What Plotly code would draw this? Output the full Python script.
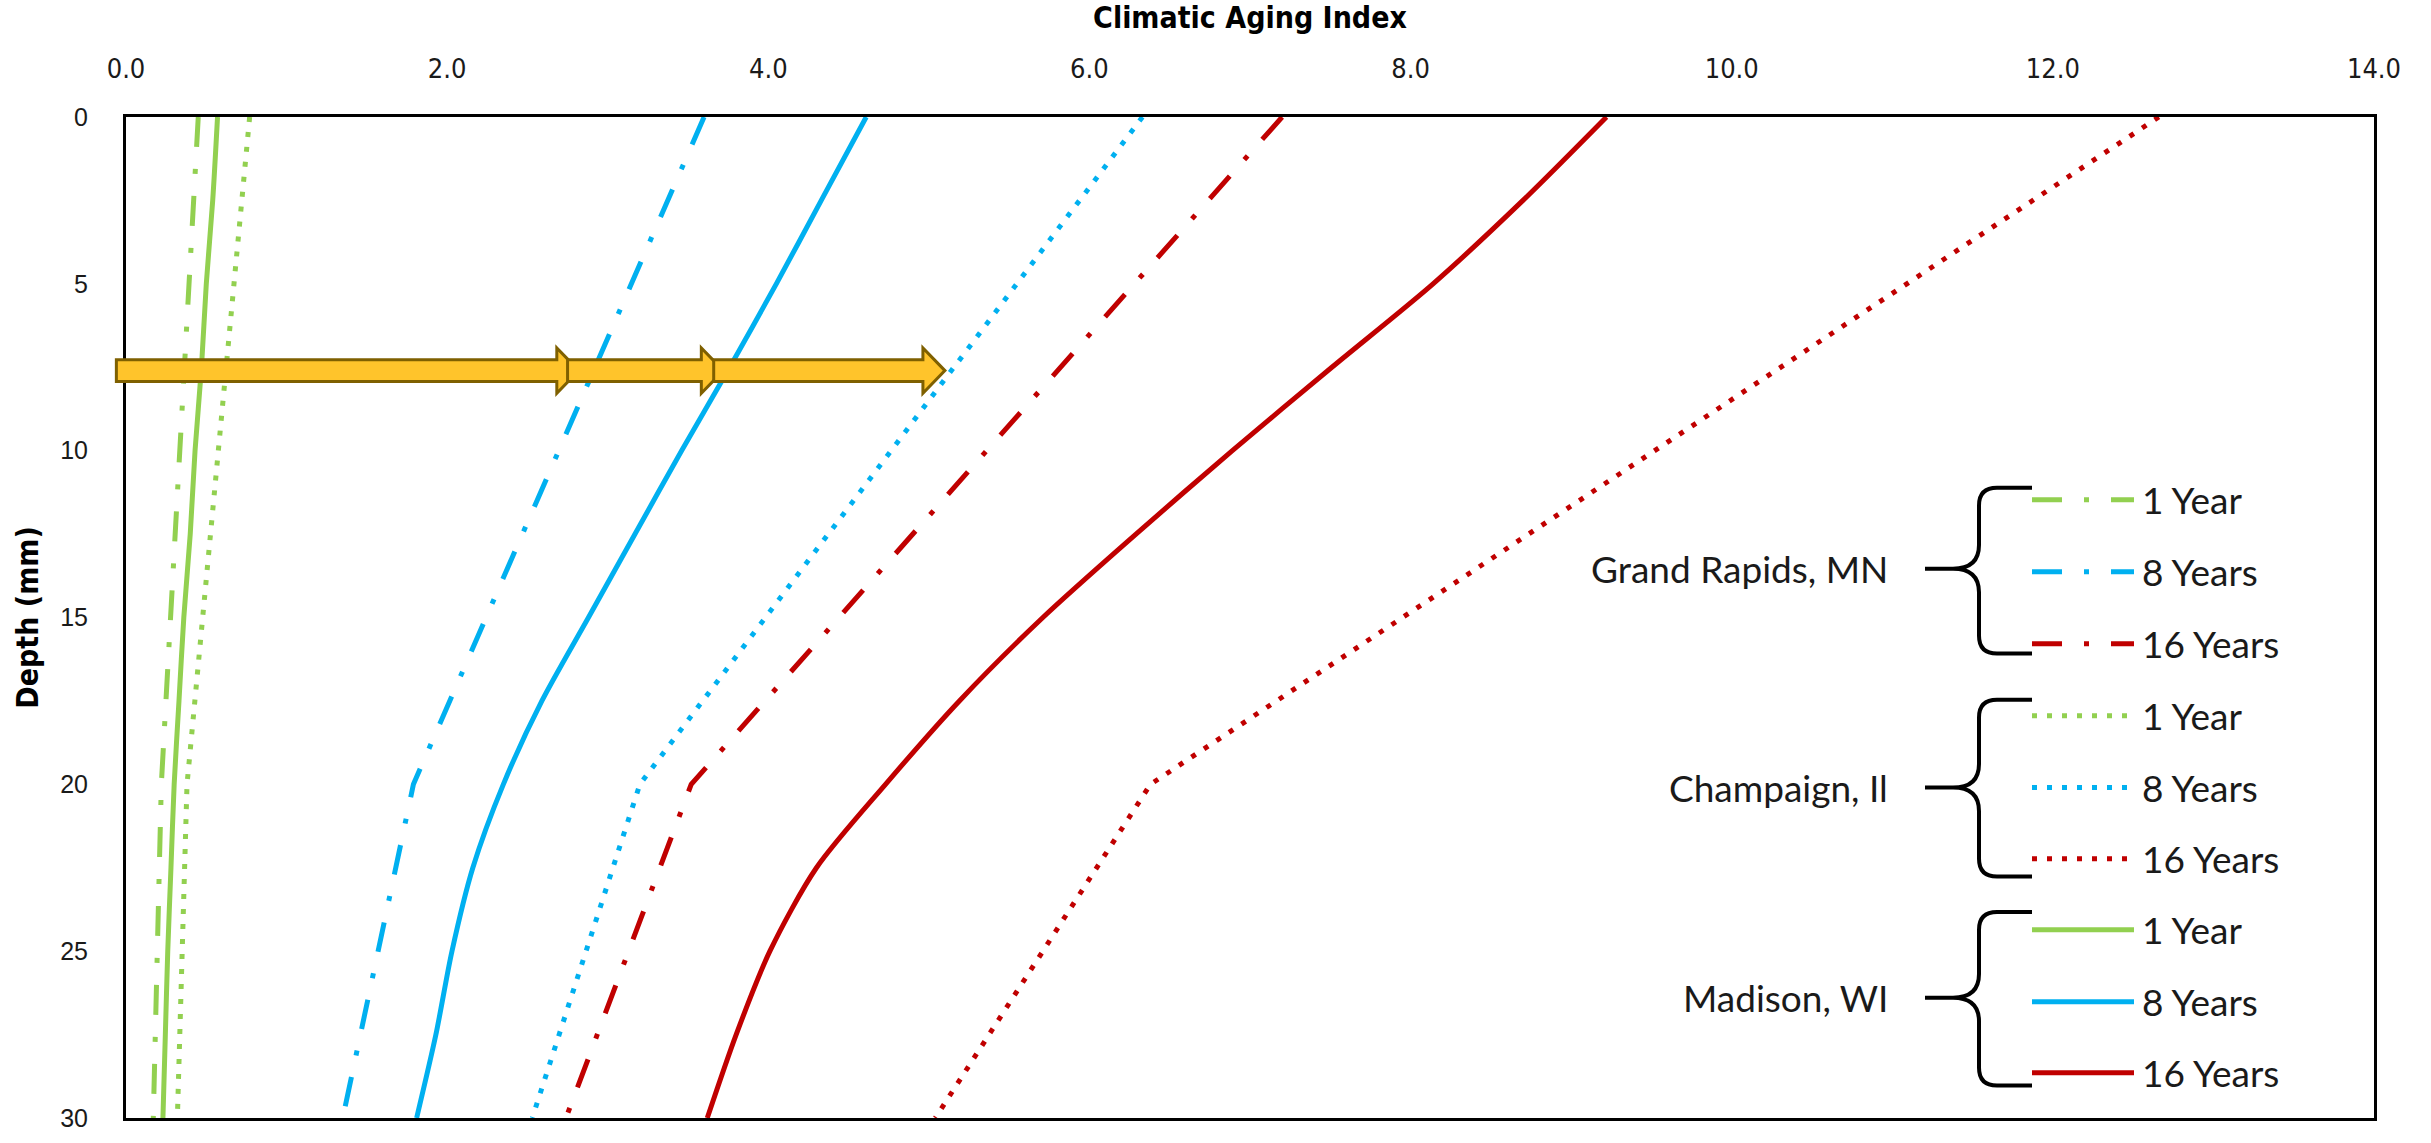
import plotly.graph_objects as go

# ---------------- data ----------------
# Madison, WI profiles (smooth curves)
madison_depth = [0, 2.5, 5, 7.5, 10, 12.5, 15, 17.5, 20, 22.5, 25, 27.5, 30]
madison_1yr = [0.57, 0.54, 0.50, 0.47, 0.43, 0.40, 0.36, 0.33, 0.30, 0.28, 0.26, 0.245, 0.23]
madison_8yr = [4.61, 4.33, 4.05, 3.76, 3.46, 3.17, 2.88, 2.59, 2.35, 2.16, 2.03, 1.93, 1.81]
madison_16yr = [9.22, 8.70, 8.14, 7.51, 6.89, 6.29, 5.71, 5.19, 4.73, 4.30, 4.01, 3.80, 3.62]

# Grand Rapids, MN profiles
grand_rapids_depth = [0, 20, 30]
grand_rapids_1yr = [0.45, 0.22, 0.17]
grand_rapids_8yr = [3.60, 1.79, 1.35]
grand_rapids_16yr = [7.20, 3.52, 2.74]

# Champaign, Il profiles
champaign_depth = [0, 20, 30]
champaign_1yr = [0.77, 0.38, 0.32]
champaign_8yr = [6.33, 3.20, 2.53]
champaign_16yr = [12.66, 6.38, 5.04]

# highlight arrows at a common depth
arrow_depth = 7.6
arrow_tails = [-0.06, 2.75, 3.66]
arrow_tips = [2.82, 3.72, 5.10]

x_ticks = [0, 2, 4, 6, 8, 10, 12, 14]
y_ticks = [0, 5, 10, 15, 20, 25, 30]
X_RANGE = [0, 14]
Y_RANGE = [30, 0]

GREEN = "#92D050"
BLUE = "#00B0F0"
RED = "#C00000"

DASHDOT = "30px,22px,5px,22px"
DOTTED = "5px,10px"

# ---------------- canvas geometry ----------------
W, H = 2431, 1143
ML, MR, MT, MB = 126, 57, 117, 11
PW, PH = W - ML - MR, H - MT - MB


def px2paper(X, Y):
    return (X - ML) / PW, (H - MB - Y) / PH


def val2paper_x(v):
    return (v - X_RANGE[0]) / (X_RANGE[1] - X_RANGE[0])


def depth2paper_y(d):
    return (d - Y_RANGE[0]) / (Y_RANGE[1] - Y_RANGE[0])


fig = go.Figure()

series = [
    (grand_rapids_depth, grand_rapids_1yr, GREEN, DASHDOT, "linear"),
    (grand_rapids_depth, grand_rapids_8yr, BLUE, DASHDOT, "linear"),
    (grand_rapids_depth, grand_rapids_16yr, RED, DASHDOT, "linear"),
    (champaign_depth, champaign_1yr, GREEN, DOTTED, "linear"),
    (champaign_depth, champaign_8yr, BLUE, DOTTED, "linear"),
    (champaign_depth, champaign_16yr, RED, DOTTED, "linear"),
    (madison_depth, madison_1yr, GREEN, "solid", "spline"),
    (madison_depth, madison_8yr, BLUE, "solid", "spline"),
    (madison_depth, madison_16yr, RED, "solid", "spline"),
]
for d, v, c, dash, shape in series:
    fig.add_trace(go.Scatter(
        x=v, y=d, mode="lines",
        line=dict(color=c, width=5, dash=dash, shape=shape, smoothing=0.8),
        showlegend=False, hoverinfo="skip",
    ))

shapes = []
annotations = []

# gold arrows pointing at the 8-year curves
yc = depth2paper_y(arrow_depth)
shaft = 11 / PH
head = 23 / PH
head_len = 22 / PW
for tail, tip in zip(arrow_tails, arrow_tips):
    x0 = val2paper_x(tail)
    x1 = val2paper_x(tip)
    xb = x1 - head_len
    path = (f"M{x0},{yc + shaft} L{xb},{yc + shaft} L{xb},{yc + head} L{x1},{yc} "
            f"L{xb},{yc - head} L{xb},{yc - shaft} L{x0},{yc - shaft} Z")
    shapes.append(dict(type="path", xref="paper", yref="paper", path=path,
                       fillcolor="#FFC42B", line=dict(color="#7F6000", width=3),
                       layer="above"))

# custom grouped legend
groups = [
    ("Grand Rapids, MN", DASHDOT, [505, 578, 651], 493, 661, 575),
    ("Champaign, Il", DOTTED, [724, 797, 869], 708, 887, 797),
    ("Madison, WI", "solid", [941, 1014, 1086], 923, 1099, 1010),
]
colors = [GREEN, BLUE, RED]
labels = ["1 Year", "8 Years", "16 Years"]
SAMPLE_X0, SAMPLE_X1, TEXT_X = 2032, 2134, 2140
BRACE_V, BRACE_TIP, BRACE_ARM = 1979, 1925, 2032
GROUP_TEXT_X = 1890
LEGEND_FONT = "Lato, Open Sans, sans-serif"


def brace_path(top, bot, mid):
    def P(X, Y):
        x, y = px2paper(X, Y)
        return f"{x},{y}"
    r = 18
    t = 24
    return (f"M{P(BRACE_ARM, top)} L{P(BRACE_V + r, top)} Q{P(BRACE_V, top)} {P(BRACE_V, top + r)} "
            f"L{P(BRACE_V, mid - t)} Q{P(BRACE_V, mid)} {P(BRACE_V - 26, mid)} L{P(BRACE_TIP, mid)} "
            f"M{P(BRACE_V - 26, mid)} Q{P(BRACE_V, mid)} {P(BRACE_V, mid + t)} "
            f"L{P(BRACE_V, bot - r)} Q{P(BRACE_V, bot)} {P(BRACE_V + r, bot)} L{P(BRACE_ARM, bot)}")


for name, dash, rows, top, bot, mid in groups:
    shapes.append(dict(type="path", xref="paper", yref="paper", path=brace_path(top, bot, mid),
                       line=dict(color="black", width=4), layer="above"))
    gx, gy = px2paper(GROUP_TEXT_X, mid)
    annotations.append(dict(xref="paper", yref="paper", x=gx, y=gy, text=name,
                            showarrow=False, xanchor="right", yanchor="middle",
                            font=dict(family=LEGEND_FONT, size=37, color="#1a1a1a")))
    for row, c, lab in zip(rows, colors, labels):
        x0, y0 = px2paper(SAMPLE_X0, row)
        x1, _ = px2paper(SAMPLE_X1, row)
        shapes.append(dict(type="line", xref="paper", yref="paper", x0=x0, x1=x1, y0=y0, y1=y0,
                           line=dict(color=c, width=5, dash=dash), layer="above"))
        tx, _ = px2paper(TEXT_X, row)
        annotations.append(dict(xref="paper", yref="paper", x=tx, y=y0, text=lab,
                                showarrow=False, xanchor="left", yanchor="middle",
                                font=dict(family=LEGEND_FONT, size=37, color="#1a1a1a")))

NARROW = "DejaVu Sans Condensed, Liberation Sans Narrow, sans-serif"

fig.update_layout(
    width=W, height=H,
    margin=dict(l=ML, r=MR, t=MT, b=MB, pad=0),
    paper_bgcolor="white", plot_bgcolor="white",
    shapes=shapes, annotations=annotations,
    xaxis=dict(
        side="top", range=X_RANGE, tickvals=x_ticks, tickformat=".1f",
        showgrid=False, zeroline=False, showline=True, mirror=True,
        linecolor="black", linewidth=3, ticks="", ticklabelstandoff=25,
        ticklabeloverflow="allow",
        tickfont=dict(family=NARROW, size=27, color="#1a1a1a"),
        title=dict(text="<b>Climatic Aging Index</b>", standoff=19,
                   font=dict(family=NARROW, size=30, color="black")),
    ),
    yaxis=dict(
        range=Y_RANGE, tickvals=y_ticks,
        showgrid=False, zeroline=False, showline=True, mirror=True,
        linecolor="black", linewidth=3, ticks="", ticklabelstandoff=30,
        ticklabeloverflow="allow",
        tickfont=dict(family="Liberation Sans, Arial, sans-serif", size=25, color="#1a1a1a"),
        title=dict(text="<b>Depth (mm)</b>", standoff=13,
                   font=dict(family=NARROW, size=30, color="black")),
    ),
)

fig.write_html("out.html")
